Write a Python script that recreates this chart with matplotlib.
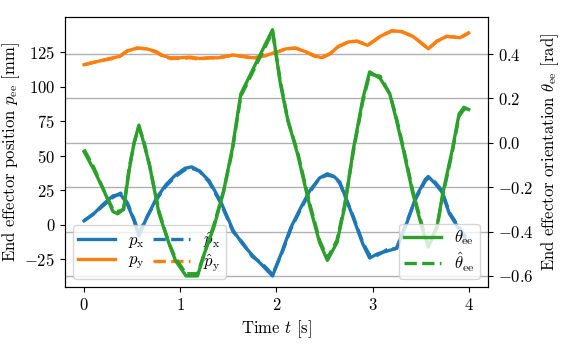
import matplotlib
matplotlib.use('Agg')
import matplotlib.pyplot as plt

t_x = [0.0, 0.1, 0.2, 0.3, 0.38, 0.45, 0.52, 0.57, 0.65, 0.75, 0.85, 0.95, 1.05, 1.12,
       1.2, 1.3, 1.42, 1.55, 1.65, 1.75, 1.85, 1.96, 2.06, 2.15, 2.25, 2.35, 2.45, 2.53,
       2.6, 2.66, 2.8, 2.9, 2.97, 3.05, 3.15, 3.25, 3.35, 3.45, 3.55, 3.58, 3.65, 3.72,
       3.8, 3.9, 3.98]
p_x = [3, 8, 15, 21, 22, 15, 3, -8, 5, 19, 29, 36, 41, 42,
       39, 32, 17, -4, -14, -22, -29, -37, -19, -2, 12, 25, 34, 37,
       35, 31, 5, -14, -24, -21, -19, -17, 0, 20, 33, 35, 30, 24,
       8, -3, -12]
p_x_hat = [3, 8, 14, 20, 23, 16, 4, -6, 5, 18, 28, 35, 40, 41,
           39, 31, 16, -5, -13, -23, -28, -36, -20, -3, 11, 24, 34, 36,
           35, 30, 6, -13, -22, -22, -18, -17, 1, 19, 32, 34, 31, 25,
           9, -2, -10]

t_y = [0.0, 0.15, 0.3, 0.37, 0.45, 0.55, 0.65, 0.75, 0.82, 0.9, 1.0, 1.1, 1.2, 1.3,
       1.4, 1.55, 1.65, 1.76, 1.88, 2.0, 2.1, 2.2, 2.3, 2.4, 2.47, 2.56, 2.64, 2.75,
       2.84, 2.95, 3.08, 3.2, 3.3, 3.42, 3.52, 3.58, 3.67, 3.77, 3.85, 3.91, 4.0]
p_y = [116, 118.5, 121, 122, 126, 128, 127.5, 125.5, 122.5, 121, 121, 121.5, 120.5, 121,
       121, 123, 122, 121, 122.5, 125, 127.5, 128, 125.5, 122.5, 121, 124, 129, 132.5,
       133, 130, 136.5, 140.5, 140, 136.5, 131, 127.5, 133, 136.5, 136, 135.5, 139]
p_y_hat = [116, 118.5, 120.5, 122, 126, 128, 127.5, 125, 122, 120.5, 120.5, 121, 120, 121,
           121, 123, 122, 120.5, 122.5, 125, 127.5, 128, 125.5, 122, 121, 124, 129, 132.5,
           133, 130, 136.5, 140.5, 140, 136.5, 131, 127.5, 133, 136.5, 136, 135.5, 139]

t_th = [0.0, 0.1, 0.2, 0.3, 0.35, 0.41, 0.47, 0.52, 0.57, 0.62, 0.68, 0.78, 0.88, 0.95,
        1.06, 1.18, 1.25, 1.35, 1.45, 1.54, 1.63, 1.8, 1.96, 2.04, 2.12, 2.22, 2.35, 2.45,
        2.53, 2.63, 2.71, 2.8, 2.9, 2.97, 3.08, 3.18, 3.25, 3.32, 3.42, 3.52, 3.58, 3.67,
        3.73, 3.83, 3.9, 3.95, 4.0]
theta = [-0.04, -0.12, -0.21, -0.31, -0.32, -0.30, -0.12, 0.0, 0.08, 0.0, -0.10, -0.32, -0.45, -0.53,
         -0.60, -0.60, -0.50, -0.38, -0.22, -0.03, 0.22, 0.37, 0.51, 0.27, 0.10, -0.05, -0.29, -0.45,
         -0.53, -0.45, -0.29, -0.03, 0.20, 0.32, 0.29, 0.22, 0.10, -0.03, -0.23, -0.39, -0.47, -0.38,
         -0.23, -0.03, 0.13, 0.16, 0.15]
theta_hat = [-0.03, -0.11, -0.21, -0.30, -0.31, -0.30, -0.11, 0.0, 0.07, 0.01, -0.10, -0.31, -0.45, -0.52,
             -0.59, -0.59, -0.50, -0.37, -0.22, -0.04, 0.21, 0.36, 0.50, 0.28, 0.10, -0.04, -0.28, -0.44,
             -0.52, -0.44, -0.28, -0.04, 0.19, 0.31, 0.30, 0.22, 0.11, -0.02, -0.22, -0.38, -0.46, -0.38,
             -0.24, -0.04, 0.12, 0.15, 0.16]

plt.rcParams['font.family'] = 'cmr10'
plt.rcParams['mathtext.fontset'] = 'cm'
plt.rcParams['axes.formatter.use_mathtext'] = True
plt.rcParams['font.size'] = 12

fig = plt.figure(figsize=(5.74, 3.55), dpi=100)
ax1 = fig.add_axes([0.113, 0.1915, 0.737, 0.7605])
ax2 = ax1.twinx()

lw = 2.4
l1, = ax1.plot(t_x, p_x, color='C0', lw=lw, label=r'$p_\mathrm{x}$')
l2, = ax1.plot(t_y, p_y, color='C1', lw=lw, label=r'$p_\mathrm{y}$')
l3, = ax1.plot(t_x, p_x_hat, color='C0', lw=lw, ls='--', label=r'$\hat{p}_\mathrm{x}$')
l4, = ax1.plot(t_y, p_y_hat, color='C1', lw=lw, ls='--', label=r'$\hat{p}_\mathrm{y}$')

ax2.plot(t_th, theta, color='C2', lw=lw, label=r'$\theta_\mathrm{ee}$')
ax2.plot(t_th, theta_hat, color='C2', lw=lw, ls='--', label=r'$\hat{\theta}_\mathrm{ee}$')

ax1.set_ylim(-45, 150.5)
ax2.set_ylim(-0.65, 0.567)
ax2.set_yticks([-0.6, -0.4, -0.2, 0.0, 0.2, 0.4])
ax1.set_yticks([-25, 0, 25, 50, 75, 100, 125])
ax1.set_xticks([0, 1, 2, 3, 4])

# grid of the right axis, drawn behind all curves
for v in [-0.6, -0.4, -0.2, 0.0, 0.2, 0.4]:
    ax1.plot([0, 1], [v, v], transform=ax2.get_yaxis_transform(),
             color='#b0b0b0', lw=1.0, zorder=0.5)

ax1.set_xlabel(r'Time $t$ [s]')
ax1.set_ylabel(r'End effector position $p_\mathrm{ee}$ [mm]', labelpad=2)
ax2.set_ylabel(r'End effector orientation $\theta_\mathrm{ee}$ [rad]')

ax1.legend(handles=[l1, l2, l3, l4], loc='lower left', ncol=2,
           handlelength=2.2, columnspacing=0.5, labelspacing=0.15, borderpad=0.3)
ax2.legend(loc='lower right', handlelength=2.2, labelspacing=0.15, borderpad=0.3)

fig.savefig('out.png', dpi=100)
